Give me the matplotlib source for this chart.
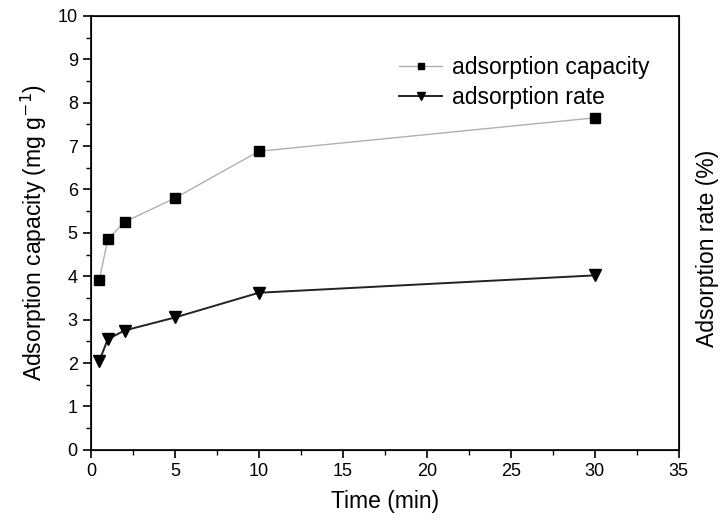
import numpy as np
import matplotlib.pyplot as plt
from matplotlib.ticker import MultipleLocator

plt.rcParams['font.family'] = ['Liberation Sans', 'DejaVu Sans']

# data
time_min = [0.5, 1, 2, 5, 10, 30]
capacity = [3.92, 4.85, 5.25, 5.80, 6.88, 7.65]
rate = [2.05, 2.55, 2.75, 3.05, 3.62, 4.02]

fig = plt.figure(figsize=(7.22, 5.28), dpi=100)
ax = fig.add_axes([0.126, 0.148, 0.814, 0.822])

ax.plot(time_min, capacity, color='#b0b0b0', lw=1.0, marker='s', ms=6.5,
        mfc='black', mec='black', label='adsorption capacity')
ax.plot(time_min, rate, color='#222222', lw=1.4, marker='v', ms=8,
        mfc='black', mec='black', label='adsorption rate')

ax.set_xlim(0, 35)
ax.set_ylim(0, 10)
ax.xaxis.set_major_locator(MultipleLocator(5))
ax.xaxis.set_minor_locator(MultipleLocator(2.5))
ax.yaxis.set_major_locator(MultipleLocator(1))
ax.yaxis.set_minor_locator(MultipleLocator(0.5))
ax.tick_params(which='major', direction='out', length=6, width=1.2, labelsize=13)
ax.tick_params(which='minor', direction='out', length=3.5, width=1.0)
for s in ax.spines.values():
    s.set_linewidth(1.2)

ax.set_xlabel('Time (min)', fontsize=16.5, labelpad=7)
ax.set_ylabel('Adsorption capacity (mg g$^{-1}$)', fontsize=16.5, labelpad=6)

ax2 = ax.twinx()
ax2.set_ylim(0, 10)
ax2.set_yticks([])
ax2.set_ylabel('Adsorption rate (%)', fontsize=16.5)
ax2.yaxis.set_label_coords(1.03, 0.465)

leg = ax.legend(loc='upper left', bbox_to_anchor=(0.524, 0.907), frameon=False,
                fontsize=16.5, handlelength=1.9, handletextpad=0.4,
                labelspacing=0.3, markerscale=0.65, borderpad=0, borderaxespad=0)

fig.savefig('out.png', dpi=100)
